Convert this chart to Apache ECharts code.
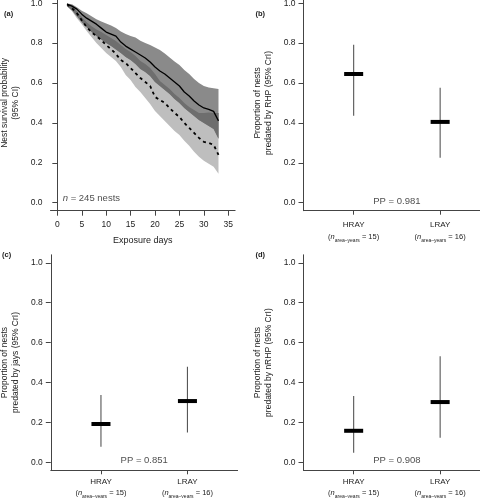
<!DOCTYPE html>
<html>
<head>
<meta charset="utf-8">
<title>Nest survival and predation</title>
<script src="https://cdn.jsdelivr.net/npm/echarts@6/dist/echarts.min.js"></script>
<style>
html, body { margin: 0; padding: 0; background: #fff; }
#chart { width: 480px; height: 498px; }
</style>
</head>
<body>
<div id="chart"></div>
<script>
// (a) nest survival, exposure days
var days = [2, 3, 4, 5, 6, 7, 8, 9, 10, 11, 12, 13, 14, 15, 16, 17,
            18, 19, 20, 21, 22, 23, 24, 25, 26, 27, 28, 29, 30, 31, 32, 33];
// solid curve + its CI
var survSolid   = [0.995, 0.985, 0.970, 0.945, 0.925, 0.910, 0.895, 0.875, 0.855, 0.845, 0.835, 0.805, 0.785, 0.770, 0.755, 0.740,
                   0.725, 0.705, 0.680, 0.660, 0.645, 0.625, 0.605, 0.585, 0.555, 0.535, 0.510, 0.490, 0.475, 0.468, 0.458, 0.410];
var survSolidLo = [0.985, 0.965, 0.935, 0.905, 0.880, 0.855, 0.835, 0.818, 0.800, 0.785, 0.768, 0.750, 0.730, 0.715, 0.695, 0.670,
                   0.655, 0.635, 0.605, 0.585, 0.565, 0.545, 0.520, 0.500, 0.475, 0.455, 0.435, 0.415, 0.400, 0.385, 0.370, 0.320];
var survSolidHi = [0.998, 0.995, 0.980, 0.962, 0.950, 0.935, 0.920, 0.908, 0.898, 0.888, 0.875, 0.858, 0.845, 0.835, 0.828, 0.812,
                   0.800, 0.790, 0.778, 0.765, 0.748, 0.728, 0.708, 0.690, 0.665, 0.645, 0.620, 0.600, 0.585, 0.578, 0.574, 0.570];
// dashed curve + its CI
var survDashed   = [0.995, 0.975, 0.950, 0.915, 0.880, 0.855, 0.835, 0.815, 0.790, 0.770, 0.745, 0.715, 0.700, 0.675, 0.650, 0.625,
                    0.605, 0.585, 0.530, 0.515, 0.500, 0.475, 0.450, 0.430, 0.400, 0.375, 0.350, 0.325, 0.305, 0.300, 0.290, 0.240];
var survDashedLo = [0.985, 0.960, 0.925, 0.895, 0.860, 0.830, 0.800, 0.775, 0.750, 0.730, 0.710, 0.680, 0.640, 0.615, 0.580, 0.555,
                    0.525, 0.495, 0.460, 0.435, 0.410, 0.385, 0.360, 0.340, 0.310, 0.285, 0.255, 0.230, 0.210, 0.195, 0.180, 0.145];
var survDashedHi = [0.995, 0.985, 0.960, 0.930, 0.905, 0.885, 0.868, 0.855, 0.840, 0.825, 0.810, 0.790, 0.770, 0.755, 0.735, 0.710,
                    0.695, 0.675, 0.645, 0.610, 0.590, 0.570, 0.545, 0.525, 0.500, 0.480, 0.465, 0.450, 0.450, 0.452, 0.450, 0.450];
var nNests = 245;

// (b)-(d) predation, HRAY / LRAY
var categories = ['HRAY', 'LRAY'];
var nAreaYears = [15, 16];
var predRHP    = [0.645, 0.405], predRHPLo  = [0.436, 0.225], predRHPHi  = [0.792, 0.576];
var predJays   = [0.192, 0.307], predJaysLo = [0.078, 0.150], predJaysHi = [0.337, 0.479];
var predNRHP   = [0.158, 0.302], predNRHPLo = [0.048, 0.123], predNRHPHi = [0.332, 0.532];
var ppRHP = '0.981', ppJays = '0.851', ppNRHP = '0.908';

var xTicksDays = [0, 5, 10, 15, 20, 25, 30, 35];
var xTicksCat = [1, 2];
var yTicks = [0, 0.2, 0.4, 0.6, 0.8, 1];

var FONT = 'Liberation Sans, Arial, sans-serif',
    TXT = '#222',
    AXIS = '#444';

function pairs(xs, ys) {
    return xs.map(function (x, i) { return [x, ys[i]]; });
}

// CI band as one polygon: upper bound forward, lower bound back
function band(lo, hi, color) {
    return {
        type: 'custom', xAxisIndex: 0, yAxisIndex: 0, silent: true,
        data: [[days[0], lo[0], hi[0]]],
        encode: { x: 0, y: [1, 2] },
        renderItem: function (params, api) {
            var pts = [], i;
            for (i = 0; i < days.length; i++) {
                pts.push(api.coord([days[i], hi[i]]));
            }
            for (i = days.length - 1; i >= 0; i--) {
                pts.push(api.coord([days[i], lo[i]]));
            }
            return { type: 'polygon', shape: { points: pts }, style: { fill: color } };
        }
    };
}

function yAxisCfg(gi, name) {
    return {
        gridIndex: gi, type: 'value', min: -0.04, max: 1.04,
        name: name, nameLocation: 'middle', nameGap: 30, nameRotate: 90,
        nameTextStyle: { fontFamily: FONT, fontSize: 8.5, lineHeight: 10.5, color: TXT },
        axisLine: { show: true, lineStyle: { color: AXIS, width: 1 } },
        axisTick: { show: true, length: 5, customValues: yTicks, lineStyle: { color: AXIS } },
        axisLabel: {
            customValues: yTicks, margin: 8, fontFamily: FONT, fontSize: 8.5, color: TXT,
            formatter: function (v) { return v.toFixed(1); }
        },
        splitLine: { show: false }
    };
}

function catAxisCfg(gi, margin) {
    return {
        gridIndex: gi, type: 'value', min: 0.42, max: 2.58,
        axisLine: { show: true, onZero: false, lineStyle: { color: AXIS, width: 1 } },
        axisTick: { show: true, length: 4, customValues: xTicksCat, lineStyle: { color: AXIS } },
        axisLabel: {
            customValues: xTicksCat, margin: margin, fontFamily: FONT, color: TXT,
            formatter: function (v) {
                var i = Math.round(v) - 1;
                return '{c|' + categories[i] + '}\n{p|(}{i|n}{s|area–years}{p| = ' + nAreaYears[i] + ')}';
            },
            rich: {
                c: { fontFamily: FONT, fontSize: 8, lineHeight: 12, color: TXT },
                p: { fontFamily: FONT, fontSize: 7.5, lineHeight: 12, color: TXT },
                i: { fontFamily: FONT, fontSize: 7.5, lineHeight: 12, fontStyle: 'italic', color: TXT },
                s: { fontFamily: FONT, fontSize: 5, lineHeight: 6, verticalAlign: 'bottom', color: TXT }
            }
        },
        splitLine: { show: false }
    };
}

function errorBars(gi, med, lo, hi) {
    return {
        type: 'custom', xAxisIndex: gi, yAxisIndex: gi, silent: true,
        data: categories.map(function (c, i) { return [i + 1, lo[i], med[i], hi[i]]; }),
        encode: { x: 0, y: [1, 2, 3] },
        renderItem: function (params, api) {
            var x = api.value(0), l = api.value(1), m = api.value(2), h = api.value(3);
            var pLo = api.coord([x, l]), pHi = api.coord([x, h]);
            var pL = api.coord([x - 0.11, m]), pR = api.coord([x + 0.11, m]);
            return {
                type: 'group',
                children: [{
                    type: 'line',
                    shape: { x1: pLo[0], y1: pLo[1], x2: pHi[0], y2: pHi[1] },
                    style: { stroke: '#555', lineWidth: 1.1 }
                }, {
                    type: 'line',
                    shape: { x1: pL[0], y1: pL[1], x2: pR[0], y2: pR[1] },
                    style: { stroke: '#000', lineWidth: 4 }
                }]
            };
        }
    };
}

function ppText(gi, pp) {
    return {
        type: 'scatter', xAxisIndex: gi, yAxisIndex: gi, silent: true,
        symbolSize: 0, data: [[1.5, 0.008]],
        label: {
            show: true, position: 'inside', fontFamily: FONT, fontSize: 9.5, color: TXT,
            formatter: 'PP = ' + pp
        }
    };
}

function panelTitle(text, left, top) {
    return {
        text: text, left: left, top: top, padding: 0,
        textStyle: { fontFamily: FONT, fontSize: 7.5, fontWeight: 'bold', color: TXT }
    };
}

// overlap of the two intervals
var overlapLo = days.map(function (d, i) { return Math.max(survSolidLo[i], survDashedLo[i]); });
var overlapHi = days.map(function (d, i) { return Math.max(overlapLo[i], Math.min(survSolidHi[i], survDashedHi[i])); });

var option = {
    animation: false,
    backgroundColor: '#fff',
    title: [
        panelTitle('(a)', 4, 10),
        panelTitle('(b)', 255.5, 10),
        panelTitle('(c)', 2, 250.5),
        panelTitle('(d)', 255.5, 250.5)
    ],
    grid: [
        { left: 50.5, top: -4.8, width: 184.6, height: 215.5, outerBoundsMode: 'none' },
        { left: 303.5, top: -4.8, width: 186.8, height: 215.5, outerBoundsMode: 'none' },
        { left: 50.8, top: 254.8, width: 186.8, height: 215.5, outerBoundsMode: 'none' },
        { left: 303.5, top: 254.8, width: 186.8, height: 215.5, outerBoundsMode: 'none' }
    ],
    xAxis: [
        {
            gridIndex: 0, type: 'value', min: -1.4, max: 36.4,
            name: 'Exposure days', nameLocation: 'middle', nameGap: 25,
            nameTextStyle: { fontFamily: FONT, fontSize: 9, color: TXT },
            axisLine: { show: true, onZero: false, lineStyle: { color: AXIS, width: 1 } },
            axisTick: { show: true, length: 5, customValues: xTicksDays, lineStyle: { color: AXIS } },
            axisLabel: { customValues: xTicksDays, margin: 9, fontFamily: FONT, fontSize: 8.5, color: TXT },
            splitLine: { show: false }
        },
        catAxisCfg(1, 8),
        catAxisCfg(2, 5),
        catAxisCfg(3, 5)
    ],
    yAxis: [
        yAxisCfg(0, 'Nest survival probability\n(95% CI)'),
        yAxisCfg(1, 'Proportion of nests\npredated by RHP (95% CrI)'),
        yAxisCfg(2, 'Proportion of nests\npredated by jays (95% CrI)'),
        yAxisCfg(3, 'Proportion of nests\npredated by nRHP (95% CrI)')
    ],
    series: [
        band(survDashedLo, survDashedHi, '#bebebe'),
        band(survSolidLo, survSolidHi, '#8a8a8a'),
        band(overlapLo, overlapHi, '#6e6e6e'),
        {
            type: 'line', xAxisIndex: 0, yAxisIndex: 0, symbol: 'none', silent: true,
            lineStyle: { color: '#000', width: 1.3 },
            data: pairs(days, survSolid)
        }, {
            type: 'line', xAxisIndex: 0, yAxisIndex: 0, symbol: 'none', silent: true,
            lineStyle: { color: '#000', width: 1.8, type: [3, 3.5] },
            data: pairs(days, survDashed)
        }, {
            type: 'scatter', xAxisIndex: 0, yAxisIndex: 0, symbolSize: 0, silent: true,
            data: [[1.1, 0.022]],
            label: {
                show: true, position: 'right', distance: 0, color: TXT,
                formatter: '{i|n}{t| = ' + nNests + ' nests}',
                rich: {
                    i: { fontFamily: FONT, fontSize: 9.5, fontStyle: 'italic', color: TXT },
                    t: { fontFamily: FONT, fontSize: 9.5, color: TXT }
                }
            }
        },
        errorBars(1, predRHP, predRHPLo, predRHPHi),
        ppText(1, ppRHP),
        errorBars(2, predJays, predJaysLo, predJaysHi),
        ppText(2, ppJays),
        errorBars(3, predNRHP, predNRHPLo, predNRHPHi),
        ppText(3, ppNRHP)
    ]
};

var chart = echarts.init(document.getElementById('chart'), null, { renderer: 'canvas' });
chart.setOption(option);
</script>
</body>
</html>
